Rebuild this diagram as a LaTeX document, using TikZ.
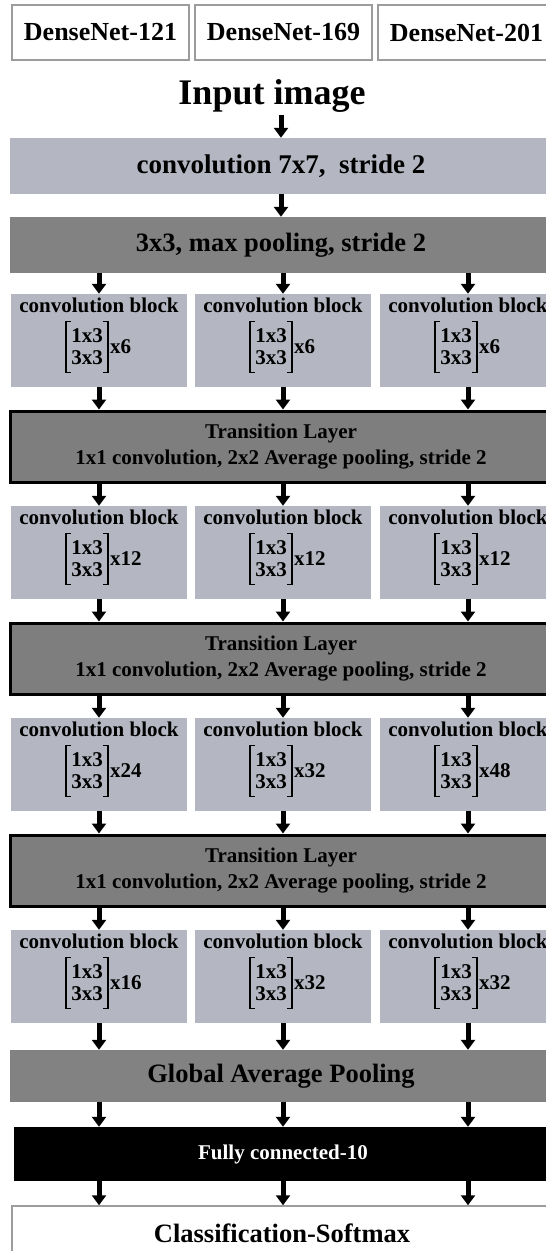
\documentclass[tikz,border=0pt]{standalone}
\usepackage{fontspec}
\setmainfont{Liberation Serif}
\usetikzlibrary{arrows.meta}

\definecolor{convgray}{HTML}{B4B7C1}
\definecolor{poolgray}{HTML}{828282}
\definecolor{transgray}{HTML}{7E7E7E}
\definecolor{framegray}{HTML}{9C9C9C}

\tikzset{
  arr/.style={-{Triangle[width=14pt,length=10pt]}, line width=5pt},
  netbox/.style={draw=framegray, line width=1.5pt, minimum width=177pt, minimum height=55pt,
    inner sep=0pt, font={\bfseries\fontsize{26}{28}\selectfont}},
  wide/.style={minimum width=542pt, inner sep=0pt},
  block/.style={fill=convgray, minimum width=176pt, minimum height=93pt, inner sep=0pt},
  title/.style={inner sep=0pt, font={\bfseries\fontsize{21}{24}\selectfont}},
  mat/.style={inner xsep=5pt, inner ysep=7pt, align=center, font={\bfseries\fontsize{21}{22}\selectfont}},
  count/.style={inner sep=2pt, font={\bfseries\fontsize{21}{24}\selectfont}},
  brk/.style={line width=1.3pt},
  trans/.style={wide, fill=transgray, draw=black, line width=3pt, minimum height=71pt, align=center,
    font={\bfseries\fontsize{21}{26}\selectfont}}
}

\begin{document}
\begin{tikzpicture}[x=1pt,y=-1pt]
  \useasboundingbox (0,0) rectangle (546,1251);

  % the three networks
  \node[netbox] (d121) at (100.5,32.5) {DenseNet-121};
  \node[netbox] (d169) at (283.5,32.5) {DenseNet-169};
  \node[netbox] (d201) at (466.5,32.5) {DenseNet-201};

  \node[anchor=base, font={\bfseries\fontsize{36}{40}\selectfont}] (input) at (272,104) {Input image};

  % stem
  \node[wide, fill=convgray, minimum height=56pt, font={\bfseries\fontsize{27}{30}\selectfont}]
    (conv7) at (281,166) {convolution 7x7, \ stride 2};
  \node[wide, fill=poolgray, minimum height=56pt, font={\bfseries\fontsize{26.5}{30}\selectfont}]
    (pool) at (281,245) {3x3, max pooling, stride 2};
  \draw[arr] (conv7.north |- input.south) -- (conv7.north);
  \draw[arr] (conv7.south) -- (pool.north);

  % dense blocks
  \foreach \r/\ya/\na/\nb/\nc in {1/294/6/6/6, 2/506/12/12/12, 3/718/24/32/48, 4/930/16/32/32} {
    \foreach \c/\cx/\n in {1/99/\na, 2/283/\nb, 3/468/\nc} {
      \node[block] (c\r\c) at (\cx,\ya+46.5) {};
      \node[title] (h\r\c) at (\cx,\ya+11) {convolution block};
      \node[mat, label={[count]east:x\n}] (m\r\c) at (\cx-12,\ya+53) {1x3\\3x3};
      % brackets
      \draw[brk] ([xshift=5pt]m\r\c.north west) -- (m\r\c.north west) -- (m\r\c.south west)
        -- ([xshift=5pt]m\r\c.south west);
      \draw[brk] ([xshift=-5pt]m\r\c.north east) -- (m\r\c.north east) -- (m\r\c.south east)
        -- ([xshift=-5pt]m\r\c.south east);
    }
  }

  % transition layers
  \foreach \t/\yt in {1/446.5, 2/658.5, 3/870.5}
    \node[trans] (t\t) at (281,\yt) {Transition Layer\\1x1 convolution, 2x2 Average pooling, stride 2};

  % head
  \node[wide, fill=poolgray, minimum height=52pt, font={\bfseries\fontsize{26.5}{30}\selectfont}]
    (gap) at (281,1076) {Global Average Pooling};
  \node[fill=black, text=white, minimum width=538pt, minimum height=54pt, inner sep=0pt,
    font={\bfseries\fontsize{21}{24}\selectfont}] (fc) at (283,1154) {Fully connected-10};
  \node[draw=framegray, line width=1.5pt, minimum width=540pt, minimum height=54pt, inner sep=0pt,
    font={\bfseries\fontsize{26.5}{30}\selectfont}] (cls) at (282,1233) {Classification-Softmax};

  \foreach \c in {1,2,3} {
    \draw[arr] (pool.south -| c1\c) -- (c1\c.north);
    \draw[arr] (c1\c.south) -- (t1.north -| c1\c);
    \draw[arr] (t1.south -| c2\c) -- (c2\c.north);
    \draw[arr] (c2\c.south) -- (t2.north -| c2\c);
    \draw[arr] (t2.south -| c3\c) -- (c3\c.north);
    \draw[arr] (c3\c.south) -- (t3.north -| c3\c);
    \draw[arr] (t3.south -| c4\c) -- (c4\c.north);
    \draw[arr] (c4\c.south) -- (gap.north -| c4\c);
    \draw[arr] (gap.south -| c4\c) -- (fc.north -| c4\c);
    \draw[arr] (fc.south -| c4\c) -- (cls.north -| c4\c);
  }
\end{tikzpicture}
\end{document}
